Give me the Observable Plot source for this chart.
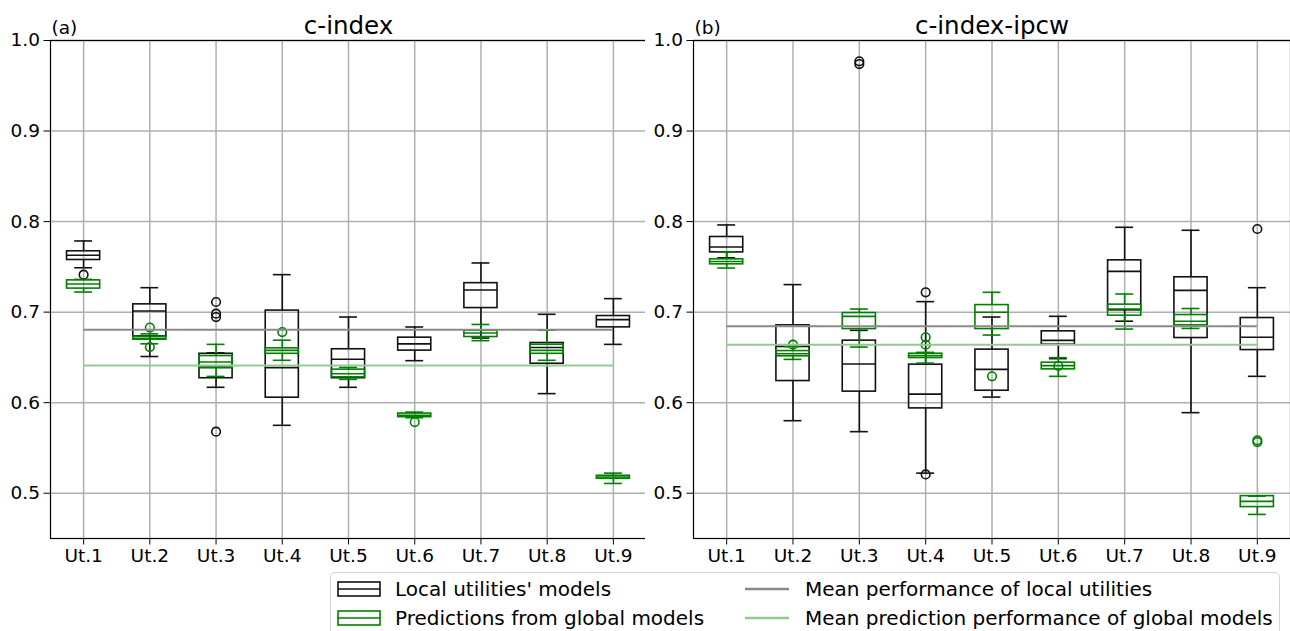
<!DOCTYPE html>
<html>
<head>
<meta charset="utf-8">
<script src="https://cdn.jsdelivr.net/npm/d3@7"></script>
<script src="https://cdn.jsdelivr.net/npm/@observablehq/plot@0.6"></script>
<style>
  body { margin: 0; background: #fff; font-family: "DejaVu Sans", sans-serif; }
  #wrap { position: relative; width: 1290px; height: 631px; overflow: hidden; background: #fff; }
  .panel { position: absolute; top: 0; }
  #legend { position: absolute; left: 330px; top: 572px; width: 950px; height: 80px;
            border: 1.5px solid #d4d4d4; border-radius: 5px; box-sizing: border-box; background: #fff; }
  .lg { position: absolute; font-size: 20px; line-height: 20px; color: #000; white-space: nowrap; }
  .sw { position: absolute; }
</style>
</head>
<body>
<div id="wrap">
  <div id="left" class="panel" style="left:0px"></div>
  <div id="right" class="panel" style="left:645px"></div>
  <div id="legend"></div>
</div>
<script>
// ---------------- data ----------------
const utilities = ["Ut.1", "Ut.2", "Ut.3", "Ut.4", "Ut.5", "Ut.6", "Ut.7", "Ut.8", "Ut.9"];
const yTicks = [0.5, 0.6, 0.7, 0.8, 0.9, 1.0];

// each row: [low whisker, Q1, median, Q3, high whisker]
const cLocalStats = [
  [0.749, 0.7576, 0.7628, 0.7672, 0.7786],
  [0.651, 0.6733, 0.7012, 0.7086, 0.727],
  [0.617, 0.627, 0.6405, 0.654, 0.655],
  [0.575, 0.6055, 0.6387, 0.7017, 0.7414],
  [0.617, 0.627, 0.648, 0.659, 0.6946],
  [0.6464, 0.6575, 0.665, 0.6718, 0.6836],
  [0.6714, 0.7045, 0.7244, 0.732, 0.7543],
  [0.61, 0.643, 0.661, 0.6659, 0.6976],
  [0.6644, 0.6832, 0.6917, 0.6957, 0.7149]
];
const cGlobalStats = [
  [0.7222, 0.726, 0.731, 0.7351, 0.7362],
  [0.665, 0.6696, 0.671, 0.673, 0.676],
  [0.629, 0.638, 0.645, 0.6515, 0.6644],
  [0.6468, 0.654, 0.6578, 0.66, 0.669],
  [0.6257, 0.628, 0.632, 0.6365, 0.639],
  [0.5834, 0.584, 0.586, 0.588, 0.5896],
  [0.6685, 0.6725, 0.677, 0.6795, 0.6864],
  [0.6468, 0.654, 0.6578, 0.664, 0.68],
  [0.5108, 0.516, 0.518, 0.5193, 0.5222]
];
// outliers: [utility number, value]
const cLocalOutliers = [[1, 0.7414], [3, 0.7112], [3, 0.6983], [3, 0.6946], [3, 0.568]];
const cGlobalOutliers = [[2, 0.6829], [2, 0.6614], [4, 0.678], [6, 0.5786]];
const cMeanLocal = 0.6806;
const cMeanGlobal = 0.6412;

const ipcwLocalStats = [
  [0.760, 0.766, 0.772, 0.783, 0.7963],
  [0.5801, 0.6239, 0.6622, 0.6854, 0.7304],
  [0.568, 0.6122, 0.6427, 0.6685, 0.6799],
  [0.5222, 0.5937, 0.6095, 0.642, 0.7116],
  [0.6062, 0.6132, 0.6368, 0.6586, 0.6946],
  [0.6486, 0.6641, 0.6688, 0.6788, 0.6954],
  [0.690, 0.702, 0.745, 0.7572, 0.7937],
  [0.589, 0.6714, 0.724, 0.7385, 0.7904],
  [0.6291, 0.6581, 0.6722, 0.6935, 0.727]
];
const ipcwGlobalStats = [
  [0.7487, 0.7528, 0.756, 0.7583, 0.7664],
  [0.6478, 0.6512, 0.654, 0.657, 0.662],
  [0.6614, 0.6813, 0.6953, 0.699, 0.7034],
  [0.6437, 0.6493, 0.652, 0.6541, 0.6556],
  [0.6747, 0.6813, 0.6998, 0.7078, 0.7219],
  [0.6291, 0.6368, 0.6409, 0.6442, 0.6497],
  [0.6813, 0.6961, 0.7035, 0.7083, 0.72],
  [0.682, 0.6854, 0.690, 0.6968, 0.704],
  [0.4766, 0.4847, 0.491, 0.4968, 0.4968]
];
const ipcwLocalOutliers = [[3, 0.977], [3, 0.974], [4, 0.7219], [4, 0.5208], [9, 0.7918]];
const ipcwGlobalOutliers = [[2, 0.6641], [4, 0.6722], [4, 0.664], [5, 0.6291], [6, 0.6405], [9, 0.5585], [9, 0.5565]];
const ipcwMeanLocal = 0.6845;
const ipcwMeanGlobal = 0.664;

const legendLabels = ["Local utilities' models", "Predictions from global models",
                      "Mean performance of local utilities", "Mean prediction performance of global models"];

// ---------------- styles ----------------
const BLACK = "#111";
const GREEN = "#008000";
const GRID = "#b0b0b0";
const MEAN_LOCAL = "#8a8a8a";
const MEAN_GLOBAL = "#93c993";
const HALF = 0.25, CAP = 0.135;

function toRows(stats) {
  return stats.map((s, i) => ({pos: i + 1, lo: s[0], q1: s[1], med: s[2], q3: s[3], hi: s[4]}));
}
function toOut(list) {
  return list.map(([u, v]) => ({pos: u, v}));
}
function boxMarks(stats, outliers, color) {
  const rows = toRows(stats);
  const outs = toOut(outliers);
  const sw = 1.6;
  return [
    Plot.ruleX(rows, {x: "pos", y1: "lo", y2: "q1", stroke: color, strokeWidth: sw}),
    Plot.ruleX(rows, {x: "pos", y1: "q3", y2: "hi", stroke: color, strokeWidth: sw}),
    Plot.ruleY(rows, {y: "lo", x1: d => d.pos - CAP, x2: d => d.pos + CAP, stroke: color, strokeWidth: sw}),
    Plot.ruleY(rows, {y: "hi", x1: d => d.pos - CAP, x2: d => d.pos + CAP, stroke: color, strokeWidth: sw}),
    Plot.rect(rows, {x1: d => d.pos - HALF, x2: d => d.pos + HALF, y1: "q1", y2: "q3", fill: "none", stroke: color, strokeWidth: sw}),
    Plot.ruleY(rows, {y: "med", x1: d => d.pos - HALF, x2: d => d.pos + HALF, stroke: color, strokeWidth: sw}),
    Plot.dot(outs, {x: "pos", y: "v", r: 4.3, stroke: color, fill: "none", strokeWidth: 1.6})
  ];
}

function panel(opts) {
  const positions = utilities.map((_, i) => i + 1);
  return Plot.plot({
    width: opts.width,
    height: 570,
    marginLeft: opts.marginLeft,
    marginRight: opts.marginRight,
    marginTop: 40,
    marginBottom: 32,
    style: {fontFamily: "DejaVu Sans", fontSize: "18.5px", color: "#000", background: "#fff", overflow: "visible"},
    x: {type: "linear", domain: [0.5, 9.5], axis: null},
    y: {domain: [0.45, 1.0], axis: null},
    marks: [
      Plot.gridX(positions, {stroke: GRID, strokeOpacity: 1, strokeWidth: 1.5}),
      Plot.gridY(yTicks, {stroke: GRID, strokeOpacity: 1, strokeWidth: 1.5}),
      ...boxMarks(opts.local, opts.localOut, BLACK),
      ...boxMarks(opts.global, opts.globalOut, GREEN),
      Plot.ruleY([opts.meanLocal], {x1: 1, x2: 9, stroke: MEAN_LOCAL, strokeWidth: 2}),
      Plot.ruleY([opts.meanGlobal], {x1: 1, x2: 9, stroke: MEAN_GLOBAL, strokeWidth: 2}),
      Plot.axisY(yTicks, {tickFormat: d3.format(".1f"), tickSize: 6.5, tickPadding: 4, label: null, fontSize: 18.5, stroke: "#000"}),
      Plot.axisX(positions, {tickFormat: i => utilities[i - 1], tickSize: 6.5, tickPadding: 4, label: null, fontSize: 18.5, stroke: "#000"}),
      Plot.frame({stroke: "#000", strokeWidth: 1.2}),
      Plot.text([opts.title], {frameAnchor: "top", lineAnchor: "bottom", dy: -7, fontSize: 24.5, fill: "#000"}),
      Plot.text([opts.tag], {frameAnchor: "top-left", textAnchor: "start", lineAnchor: "bottom", dy: -7, dx: 1, fontSize: 18.5, fill: "#000"})
    ]
  });
}

document.getElementById("left").append(panel({
  width: 650, marginLeft: 50, marginRight: 4,
  local: cLocalStats, global: cGlobalStats,
  localOut: cLocalOutliers, globalOut: cGlobalOutliers,
  meanLocal: cMeanLocal, meanGlobal: cMeanGlobal,
  title: "c-index", tag: "(a)"
}));
document.getElementById("right").append(panel({
  width: 645, marginLeft: 48, marginRight: 0,
  local: ipcwLocalStats, global: ipcwGlobalStats,
  localOut: ipcwLocalOutliers, globalOut: ipcwGlobalOutliers,
  meanLocal: ipcwMeanLocal, meanGlobal: ipcwMeanGlobal,
  title: "c-index-ipcw", tag: "(b)"
}));

// ---------------- legend ----------------
const legend = document.getElementById("legend");
function boxSwatch(color) {
  return `<svg width="44" height="16"><rect x="1" y="1" width="42" height="14" fill="none" stroke="${color}" stroke-width="1.6"/><line x1="1" x2="43" y1="8" y2="8" stroke="${color}" stroke-width="1.6"/></svg>`;
}
function lineSwatch(color) {
  return `<svg width="46" height="16"><line x1="1" x2="45" y1="8" y2="8" stroke="${color}" stroke-width="2.6"/></svg>`;
}
const entries = [
  {sw: boxSwatch(BLACK), label: legendLabels[0], sx: 6, tx: 64, y: 16},
  {sw: boxSwatch(GREEN), label: legendLabels[1], sx: 6, tx: 64, y: 45},
  {sw: lineSwatch(MEAN_LOCAL), label: legendLabels[2], sx: 413, tx: 474, y: 16},
  {sw: lineSwatch(MEAN_GLOBAL), label: legendLabels[3], sx: 413, tx: 474, y: 45}
];
for (const e of entries) {
  const s = document.createElement("div");
  s.className = "sw";
  s.style.left = e.sx + "px";
  s.style.top = (e.y - 8) + "px";
  s.innerHTML = e.sw;
  legend.append(s);
  const t = document.createElement("div");
  t.className = "lg";
  t.style.left = e.tx + "px";
  t.style.top = (e.y - 10) + "px";
  t.textContent = e.label;
  legend.append(t);
}
</script>
</body>
</html>
